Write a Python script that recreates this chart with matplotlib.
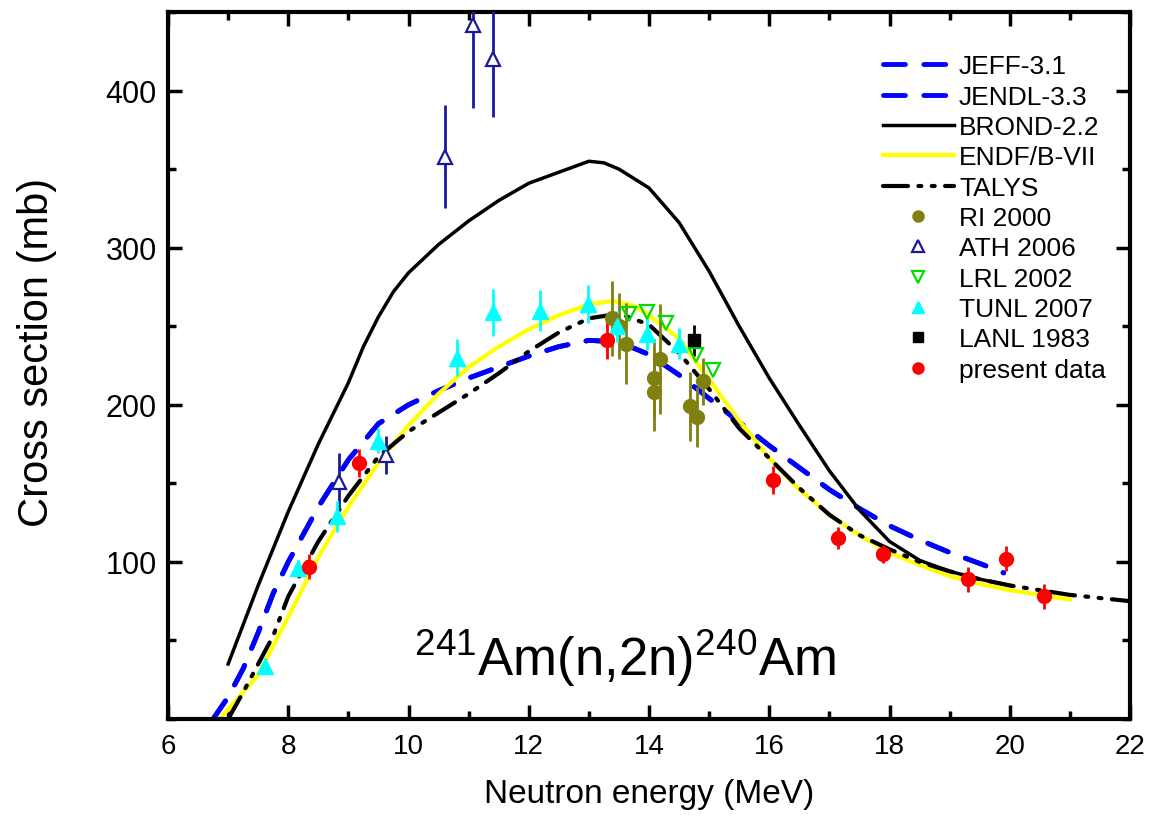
import matplotlib
matplotlib.use('Agg')
import matplotlib.pyplot as plt
from matplotlib.ticker import MultipleLocator

plt.rcParams['font.family'] = ['Liberation Sans', 'DejaVu Sans']
plt.rcParams['mathtext.fontset'] = 'custom'
plt.rcParams['mathtext.rm'] = 'Liberation Sans'

# evaluated data (energy in MeV, cross section in mb)
jeff_e = [6.75, 7.0, 7.25, 7.5, 7.75, 8.0, 8.5, 9.0, 9.5, 10.0, 10.5, 11.0, 11.5, 12.0, 12.5,
          13.0, 13.5, 14.0, 14.5, 15.0, 15.5, 16.0, 16.5, 17.0, 17.5, 18.0, 18.5, 19.0, 19.5, 19.9]
jeff_xs = [0, 14, 32, 55, 80, 100, 135, 165, 188, 200, 209, 217, 224, 231, 237,
           241, 240, 232, 219, 204, 189, 174, 160, 146, 134, 123, 114, 106, 99, 93]
jendl_e = [6.75, 7.0, 7.25, 7.5, 7.75, 8.0, 8.5, 9.0, 9.5, 10.0, 10.5, 11.0, 11.5, 12.0, 12.5,
           13.0, 13.5, 14.0, 14.5, 15.0, 15.5, 16.0, 16.5, 17.0, 17.5, 18.0, 18.5, 19.0, 19.5, 19.9]
jendl_xs = [0, 14, 32, 55, 80, 100, 135, 165, 188, 200, 209, 217, 224, 231, 237,
            241, 240, 232, 219, 204, 189, 174, 160, 146, 134, 123, 114, 106, 99, 93]
brond_e = [7.0, 7.5, 8.0, 8.5, 9.0, 9.25, 9.5, 9.75, 10.0, 10.5, 11.0, 11.5, 12.0, 12.5, 13.0,
           13.25, 13.5, 14.0, 14.5, 15.0, 15.5, 16.0, 16.5, 17.0, 17.5, 18.0, 18.5, 19.0, 19.5, 20.0]
brond_xs = [35, 85, 132, 175, 214, 237, 256, 272, 284, 302, 317, 330, 341, 348, 355,
            354, 350, 338, 316, 285, 250, 217, 187, 158, 133, 113, 101, 94, 89, 85]
endf_e = [6.85, 7.0, 7.5, 8.0, 8.5, 9.0, 9.5, 10.0, 10.5, 11.0, 11.5, 12.0, 12.5, 13.0, 13.4,
          13.75, 14.0, 14.5, 15.0, 15.5, 16.0, 16.5, 17.0, 17.5, 18.0, 18.5, 19.0, 19.5, 20.0, 20.5, 21.0]
endf_xs = [0, 6, 28, 65, 103, 135, 163, 187, 207, 224, 237, 248, 257, 264, 266,
           263, 257, 242, 216, 190, 166, 146, 130, 117, 106, 98, 91, 86, 82, 79, 76]
talys_e = [7.0, 7.25, 7.5, 7.75, 8.0, 8.5, 9.0, 9.5, 10.0, 10.5, 11.0, 11.5, 12.0, 12.5, 13.0,
           13.5, 14.0, 14.5, 15.0, 15.5, 16.0, 16.5, 17.0, 17.5, 18.0, 18.5, 19.0, 19.5, 20.0,
           20.5, 21.0, 21.5, 22.0]
talys_xs = [0, 17, 35, 53, 78, 113, 142, 167, 183, 195, 207, 220, 234, 246, 255,
            258, 251, 233, 210, 185, 166, 147, 130, 117, 108, 100, 94, 89, 85,
            82, 79, 77, 75]

# experimental data
ri_e = [13.38, 13.50, 13.62, 14.19, 14.08, 14.08, 14.69, 14.80, 14.90]
ri_xs = [255, 250, 239, 229, 217, 208, 199, 192, 215]
ri_err = [24, 21, 26, 35, 25, 25, 22, 19, 15]

ath_e = [8.84, 9.62, 10.60, 11.08, 11.40]
ath_xs = [151, 168, 358, 442, 420]
ath_err = [18, 12, 33, 53, 37]

lrl_e = [13.67, 13.97, 14.28, 14.78, 15.06]
lrl_xs = [258, 259, 252, 232, 222]

tunl_e = [7.61, 8.17, 8.81, 9.49, 10.80, 11.40, 12.19, 12.99, 13.47, 13.97, 14.50]
tunl_xs = [34, 96, 129, 177, 230, 259, 260, 264, 250, 245, 239]
tunl_err = [5, 5, 10, 8, 12, 15, 13, 12, 10, 10, 10]

lanl_e = [14.75]
lanl_xs = [241]
lanl_err = [10]

present_e = [8.35, 9.17, 13.30, 16.07, 17.14, 17.90, 19.31, 19.93, 20.57]
present_xs = [97, 163, 241, 152, 115, 105, 89, 102, 78]
present_err = [8, 9, 12, 9, 7, 6, 8, 8, 8]

fig = plt.figure(figsize=(11.52, 8.28), dpi=100)
ax = fig.add_axes([168 / 1152, 108 / 828, 962 / 1152, 707 / 828])

blue_dash = dict(color='#0000ff', lw=3.5, ls=(0, (4.5, 3.8)), dash_capstyle='round')
ax.plot(jeff_e, jeff_xs, label='JEFF-3.1', **blue_dash)
ax.plot(jendl_e, jendl_xs, label='JENDL-3.3', **blue_dash)
ax.plot(brond_e, brond_xs, color='black', lw=2.5, label='BROND-2.2')
ax.plot(endf_e, endf_xs, color='#ffff00', lw=3, label='ENDF/B-VII')
ax.plot(talys_e, talys_xs, color='black', lw=3, ls=(0, (6, 2.5, 0.7, 2.5, 0.7, 2.5)),
        dash_capstyle='round', label='TALYS')

ax.errorbar(ri_e, ri_xs, yerr=ri_err, fmt='none', ecolor='#808010', elinewidth=2, zorder=4)
ax.plot(ri_e, ri_xs, 'o', color='#808010', ms=10, zorder=5, label='RI 2000')
ax.errorbar(ath_e, ath_xs, yerr=ath_err, fmt='none', ecolor='#1a1a99', elinewidth=2, zorder=4)
ax.plot(ath_e, ath_xs, '^', mfc='white', mec='#1a1a99', mew=1.6, ms=10, zorder=5, label='ATH 2006')
ax.plot(lrl_e, lrl_xs, 'v', mfc='none', mec='#00dd00', mew=1.6, ms=10, zorder=5, label='LRL 2002')
ax.errorbar(tunl_e, tunl_xs, yerr=tunl_err, fmt='none', ecolor='#00ffff', elinewidth=2, zorder=4)
ax.plot(tunl_e, tunl_xs, '^', color='#00ffff', ms=11, zorder=5, label='TUNL 2007')
ax.errorbar(lanl_e, lanl_xs, yerr=lanl_err, fmt='none', ecolor='black', elinewidth=2, zorder=4)
ax.plot(lanl_e, lanl_xs, 's', color='black', ms=9, zorder=5, label='LANL 1983')
ax.errorbar(present_e, present_xs, yerr=present_err, fmt='none', ecolor='#ff0000', elinewidth=2, zorder=4)
ax.plot(present_e, present_xs, 'o', color='#ff0000', ms=10, zorder=6, label='present data')

ax.text(13.6, 28, r'$^{241}$Am(n,2n)$^{240}$Am', fontsize=38, ha='center', va='baseline')

ax.set_xlim(6, 22)
ax.set_ylim(0, 450)
ax.xaxis.set_major_locator(MultipleLocator(2))
ax.xaxis.set_minor_locator(MultipleLocator(1))
ax.set_yticks([100, 200, 300, 400])
ax.yaxis.set_minor_locator(MultipleLocator(50))
ax.tick_params(which='both', direction='in', top=True, right=True, width=2.5)
ax.tick_params(which='major', length=10)
ax.tick_params(which='minor', length=6)
ax.tick_params(axis='x', labelsize=20, pad=10)
ax.tick_params(axis='y', labelsize=22, pad=8)
for s in ax.spines.values():
    s.set_linewidth(3)

ax.set_xlabel('Neutron energy (MeV)', fontsize=24, labelpad=14)
ax.set_ylabel('Cross section (mb)', fontsize=30)
ax.yaxis.set_label_coords(-0.115, 0.52)

ax.legend(loc='upper right', bbox_to_anchor=(0.975, 0.94), frameon=False, fontsize=19,
          handlelength=2.7, handletextpad=0.2, labelspacing=0.24, borderpad=0,
          borderaxespad=0, markerscale=0.8)

fig.savefig('out.png', dpi=100)
